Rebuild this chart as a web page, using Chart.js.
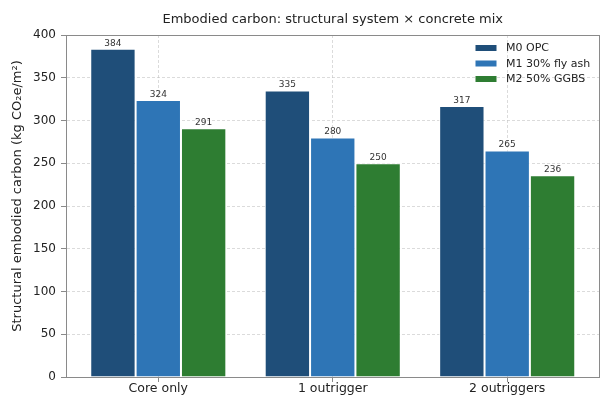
<!DOCTYPE html>
<html>
<head>
<meta charset="utf-8">
<script src="https://cdn.jsdelivr.net/npm/chart.js@4.4.1/dist/chart.umd.min.js"></script>
<style>
  html, body { margin: 0; padding: 0; background: #fff; }
  #wrap { width: 601px; height: 400px; }
</style>
</head>
<body>
<div id="wrap"><canvas id="c" width="601" height="400"></canvas></div>
<script>
// Structural systems compared, and the embodied carbon of each concrete mix
const categories = ['Core only', '1 outrigger', '2 outriggers'];
const mixNames = ['M0 OPC', 'M1 30% fly ash', 'M2 50% GGBS'];
const m0Values = [384, 335, 317];
const m1Values = [324, 280, 265];
const m2Values = [291, 250, 236];
const yTicks = [0, 50, 100, 150, 200, 250, 300, 350, 400];

const chartTitle = 'Embodied carbon: structural system × concrete mix';
const yTitle = 'Structural embodied carbon (kg CO₂e/m²)';

const mixColors = ['#1f4e79', '#2e75b6', '#2e7d32'];
const FONT = 'DejaVu Sans';
const FRAME = '#8a8a8a';
const GRID = 'rgba(190,190,190,0.55)';

const seriesValues = [m0Values, m1Values, m2Values];
const datasets = seriesValues.map((vals, i) => ({
  label: mixNames[i],
  data: vals.map((v, k) => ({ x: k, y: v })),
  backgroundColor: mixColors[i],
  borderColor: '#ffffff',
  borderWidth: 1,
  borderSkipped: 'bottom',
  categoryPercentage: 0.78,
  barPercentage: 1.0
}));

// Value printed above every bar
const valueLabels = {
  id: 'valueLabels',
  afterDatasetsDraw(chart) {
    const ctx = chart.ctx;
    ctx.save();
    ctx.font = '9px "' + FONT + '"';
    ctx.fillStyle = '#333333';
    ctx.textAlign = 'center';
    ctx.textBaseline = 'bottom';
    chart.data.datasets.forEach((ds, i) => {
      chart.getDatasetMeta(i).data.forEach((bar, k) => {
        ctx.fillText(String(ds.data[k].y), bar.x, bar.y - 1);
      });
    });
    ctx.restore();
  }
};

// Title and y-axis label centred on the plot area, full frame, legend in the upper right
const frameAndLegend = {
  id: 'frameAndLegend',
  afterDraw(chart) {
    const ctx = chart.ctx;
    const a = chart.chartArea;
    ctx.save();
    ctx.strokeStyle = FRAME;
    ctx.lineWidth = 1;
    ctx.strokeRect(Math.round(a.left) + 0.5, Math.round(a.top) + 0.5,
                   Math.round(a.right - a.left) - 1, Math.round(a.bottom - a.top));

    ctx.fillStyle = '#222222';
    ctx.textAlign = 'center';
    ctx.textBaseline = 'middle';
    ctx.font = '13px "' + FONT + '"';
    ctx.fillText(chartTitle, (a.left + a.right) / 2, 20);

    ctx.save();
    ctx.translate(17.5, (a.top + a.bottom) / 2 - 10);
    ctx.rotate(-Math.PI / 2);
    ctx.fillText(yTitle, 0, 0);
    ctx.restore();

    ctx.font = '11px "' + FONT + '"';
    ctx.textAlign = 'left';
    chart.data.datasets.forEach((ds, i) => {
      const y = a.top + 13 + i * 15.5;
      ctx.fillStyle = ds.backgroundColor;
      ctx.fillRect(a.right - 124, y - 3, 21, 6);
      ctx.fillStyle = '#222222';
      ctx.fillText(ds.label, a.right - 93.5, y + 0.5);
    });
    ctx.restore();
  }
};

new Chart(document.getElementById('c'), {
  type: 'bar',
  data: { datasets },
  plugins: [valueLabels, frameAndLegend],
  options: {
    responsive: false,
    animation: false,
    devicePixelRatio: 1,
    layout: { padding: { left: 0, right: 1.5, top: 35, bottom: 0 } },
    plugins: {
      legend: { display: false },
      tooltip: { enabled: false },
      title: { display: false }
    },
    scales: {
      x: {
        type: 'linear',
        min: -0.529,
        max: 2.529,
        offset: false,
        z: 1,
        afterBuildTicks(scale) {
          scale.ticks = categories.map((_, k) => ({ value: k }));
        },
        afterFit(scale) { scale.height = 23; },
        ticks: {
          color: '#222222',
          font: { family: FONT, size: 12.5 },
          padding: -1,
          maxRotation: 0,
          autoSkip: false,
          callback: (v) => categories[v]
        },
        grid: {
          offset: false,
          color: GRID,
          tickColor: FRAME,
          tickLength: 5,
          tickBorderDash: []
        },
        border: { color: FRAME, width: 1, dash: [3, 2] }
      },
      y: {
        min: 0,
        max: 400,
        z: 1,
        afterBuildTicks(scale) {
          scale.ticks = yTicks.map(v => ({ value: v }));
        },
        afterFit(scale) { scale.width = 66; },
        ticks: {
          color: '#222222',
          font: { family: FONT, size: 12 },
          padding: 5
        },
        grid: {
          color: GRID,
          tickColor: FRAME,
          tickLength: 5,
          tickBorderDash: []
        },
        border: { color: FRAME, width: 1, dash: [3, 2] }
      }
    }
  }
});
</script>
</body>
</html>
